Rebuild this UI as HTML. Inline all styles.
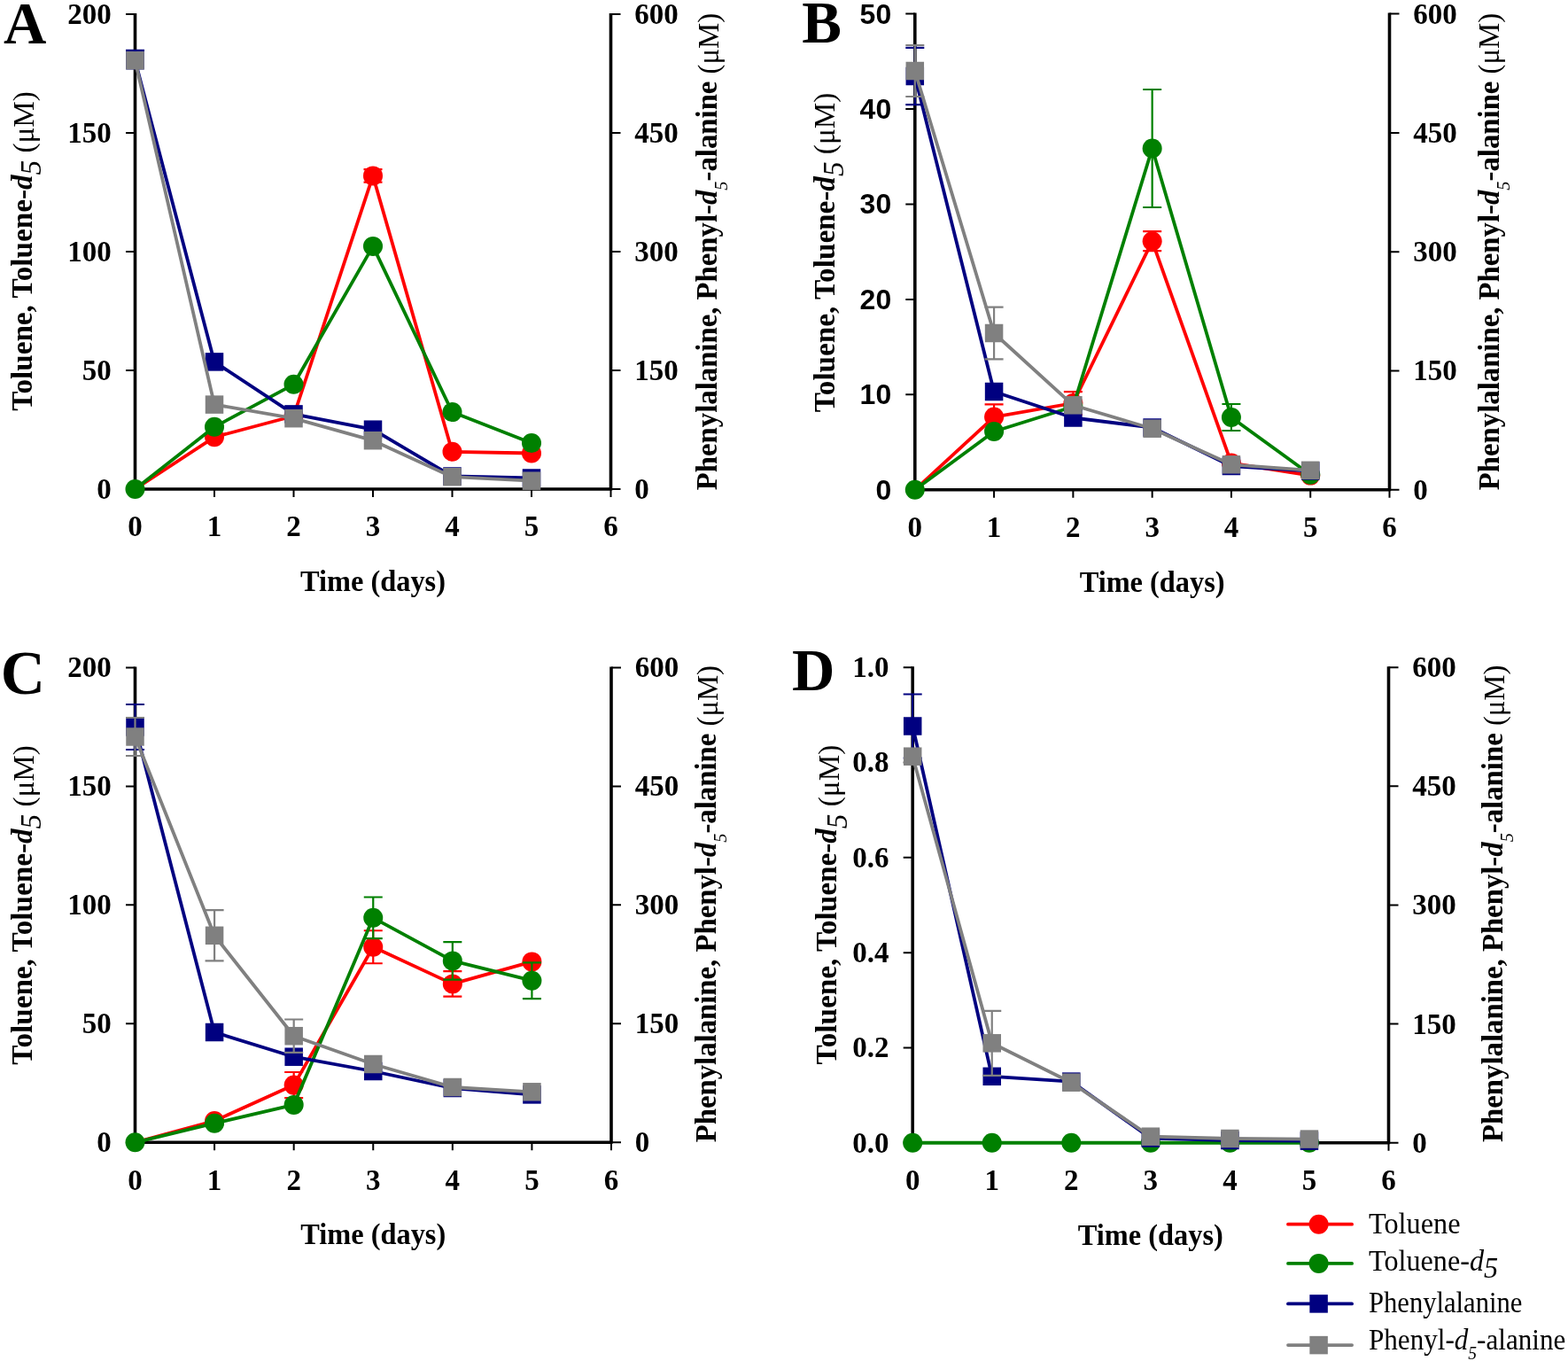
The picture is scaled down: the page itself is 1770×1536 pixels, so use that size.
<!DOCTYPE html>
<html><head><meta charset="utf-8"><title>Figure</title>
<style>html,body{margin:0;padding:0;background:#fff;overflow:hidden;}svg{display:block;}</style>
</head><body>
<svg width="1770" height="1536" viewBox="0 0 1770 1536">
<rect width="1770" height="1536" fill="#fff"/>
<path d="M152.5 15V552H689.5M689.5 15V553.5" stroke="#000" stroke-width="3.6" fill="none"/>
<path d="M142 552H152.5M142 418H152.5M142 284H152.5M142 150H152.5M142 16H152.5M689.5 552H700.5M689.5 418H700.5M689.5 284H700.5M689.5 150H700.5M689.5 16H700.5M242 552V561M331.5 552V561M421 552V561M510.5 552V561M600 552V561M689.5 552V561" stroke="#000" stroke-width="2.0" fill="none"/>
<text x="125.7" y="562.9" text-anchor="end" font-family="'Liberation Serif','Times New Roman',serif" font-weight="bold" font-size="33">0</text>
<text x="125.7" y="428.9" text-anchor="end" font-family="'Liberation Serif','Times New Roman',serif" font-weight="bold" font-size="33">50</text>
<text x="125.7" y="294.9" text-anchor="end" font-family="'Liberation Serif','Times New Roman',serif" font-weight="bold" font-size="33">100</text>
<text x="125.7" y="160.9" text-anchor="end" font-family="'Liberation Serif','Times New Roman',serif" font-weight="bold" font-size="33">150</text>
<text x="125.7" y="26.9" text-anchor="end" font-family="'Liberation Serif','Times New Roman',serif" font-weight="bold" font-size="33">200</text>
<text x="716.3" y="562.9" font-family="'Liberation Serif','Times New Roman',serif" font-weight="bold" font-size="33">0</text>
<text x="716.3" y="428.9" font-family="'Liberation Serif','Times New Roman',serif" font-weight="bold" font-size="33">150</text>
<text x="716.3" y="294.9" font-family="'Liberation Serif','Times New Roman',serif" font-weight="bold" font-size="33">300</text>
<text x="716.3" y="160.9" font-family="'Liberation Serif','Times New Roman',serif" font-weight="bold" font-size="33">450</text>
<text x="716.3" y="26.9" font-family="'Liberation Serif','Times New Roman',serif" font-weight="bold" font-size="33">600</text>
<text x="152.5" y="605.2" text-anchor="middle" font-family="'Liberation Serif','Times New Roman',serif" font-weight="bold" font-size="33">0</text>
<text x="242" y="605.2" text-anchor="middle" font-family="'Liberation Serif','Times New Roman',serif" font-weight="bold" font-size="33">1</text>
<text x="331.5" y="605.2" text-anchor="middle" font-family="'Liberation Serif','Times New Roman',serif" font-weight="bold" font-size="33">2</text>
<text x="421" y="605.2" text-anchor="middle" font-family="'Liberation Serif','Times New Roman',serif" font-weight="bold" font-size="33">3</text>
<text x="510.5" y="605.2" text-anchor="middle" font-family="'Liberation Serif','Times New Roman',serif" font-weight="bold" font-size="33">4</text>
<text x="600" y="605.2" text-anchor="middle" font-family="'Liberation Serif','Times New Roman',serif" font-weight="bold" font-size="33">5</text>
<text x="689.5" y="605.2" text-anchor="middle" font-family="'Liberation Serif','Times New Roman',serif" font-weight="bold" font-size="33">6</text>
<text x="421" y="667" text-anchor="middle" font-family="'Liberation Serif','Times New Roman',serif" font-weight="bold" font-size="33" textLength="164" lengthAdjust="spacingAndGlyphs">Time (days)</text>
<text transform="translate(35.5 463.7) rotate(-90)" font-family="'Liberation Serif','Times New Roman',serif" font-weight="bold" font-size="33.5" textLength="360.6" lengthAdjust="spacingAndGlyphs">Toluene, Toluene-<tspan font-style="italic">d</tspan><tspan font-style="italic" font-weight="normal" dy="10.2">5</tspan><tspan font-weight="normal" dy="-7.8"> (&#956;M)</tspan></text>
<text transform="translate(809.1 553.2) rotate(-90)" font-family="'Liberation Serif','Times New Roman',serif" font-weight="bold" font-size="33" textLength="538.3" lengthAdjust="spacingAndGlyphs">Phenylalanine, Phenyl-<tspan font-style="italic">d</tspan><tspan font-style="italic" font-weight="normal" font-size="20.5" dy="11.8">5</tspan><tspan dy="-11.8">-alanine</tspan><tspan font-weight="normal" dy="2.3"> (&#956;M)</tspan></text>
<text x="4" y="48.8" font-family="'Liberation Serif','Times New Roman',serif" font-weight="bold" font-size="67">A</text>
<polyline points="152.5,552 242,493.3 331.5,469.5 421,198.4 510.5,509.8 600,511.5" stroke="#ff0000" stroke-width="3.8" fill="none" stroke-linejoin="round"/>
<circle cx="242" cy="493.3" r="11.0" fill="#ff0000"/>
<circle cx="331.5" cy="469.5" r="11.0" fill="#ff0000"/>
<circle cx="421" cy="198.4" r="11.0" fill="#ff0000"/>
<circle cx="510.5" cy="509.8" r="11.0" fill="#ff0000"/>
<circle cx="600" cy="511.5" r="11.0" fill="#ff0000"/>
<path d="M421 198.4V191.2M410.5 191.2H431.5M421 198.4V205.6M410.5 205.6H431.5" stroke="#ff0000" stroke-width="2.2" fill="none"/>
<polyline points="152.5,552 242,481.8 331.5,433.8 421,277.9 510.5,465.1 600,500.1" stroke="#008000" stroke-width="3.8" fill="none" stroke-linejoin="round"/>
<circle cx="152.5" cy="552" r="11.0" fill="#008000"/>
<circle cx="242" cy="481.8" r="11.0" fill="#008000"/>
<circle cx="331.5" cy="433.8" r="11.0" fill="#008000"/>
<circle cx="421" cy="277.9" r="11.0" fill="#008000"/>
<circle cx="510.5" cy="465.1" r="11.0" fill="#008000"/>
<circle cx="600" cy="500.1" r="11.0" fill="#008000"/>
<polyline points="152.5,68.2 242,408.4 331.5,467.4 421,484.7 510.5,537.5 600,539.5" stroke="#000080" stroke-width="3.8" fill="none" stroke-linejoin="round"/>
<rect x="142.25" y="57.95" width="20.5" height="20.5" fill="#000080"/>
<rect x="231.75" y="398.15" width="20.5" height="20.5" fill="#000080"/>
<rect x="321.25" y="457.15" width="20.5" height="20.5" fill="#000080"/>
<rect x="410.75" y="474.45" width="20.5" height="20.5" fill="#000080"/>
<rect x="500.25" y="527.25" width="20.5" height="20.5" fill="#000080"/>
<rect x="589.75" y="529.25" width="20.5" height="20.5" fill="#000080"/>
<path d="M152.5 68.2V56.8M142 56.8H163" stroke="#000080" stroke-width="2.2" fill="none"/>
<polyline points="152.5,68.2 242,456.6 331.5,472.2 421,497.2 510.5,538.2 600,542.7" stroke="#808080" stroke-width="3.8" fill="none" stroke-linejoin="round"/>
<rect x="142.25" y="57.95" width="20.5" height="20.5" fill="#808080"/>
<rect x="231.75" y="446.35" width="20.5" height="20.5" fill="#808080"/>
<rect x="321.25" y="461.95" width="20.5" height="20.5" fill="#808080"/>
<rect x="410.75" y="486.95" width="20.5" height="20.5" fill="#808080"/>
<rect x="500.25" y="527.95" width="20.5" height="20.5" fill="#808080"/>
<rect x="589.75" y="532.45" width="20.5" height="20.5" fill="#808080"/>
<path d="M1032.8 14.6V552.8H1568.5M1568.5 14.6V554.3" stroke="#000" stroke-width="3.6" fill="none"/>
<path d="M1022.3 552.8H1032.8M1022.3 445.36H1032.8M1022.3 337.92H1032.8M1022.3 230.48H1032.8M1022.3 123.04H1032.8M1022.3 15.6H1032.8M1568.5 552.8H1579.5M1568.5 418.5H1579.5M1568.5 284.2H1579.5M1568.5 149.9H1579.5M1568.5 15.6H1579.5M1122.08 552.8V561.8M1211.37 552.8V561.8M1300.65 552.8V561.8M1389.93 552.8V561.8M1479.22 552.8V561.8M1568.5 552.8V561.8" stroke="#000" stroke-width="2.0" fill="none"/>
<text x="1006.2" y="563.7" text-anchor="end" font-family="'Liberation Sans',Arial,sans-serif" font-weight="bold" font-size="32">0</text>
<text x="1006.2" y="456.26" text-anchor="end" font-family="'Liberation Sans',Arial,sans-serif" font-weight="bold" font-size="32">10</text>
<text x="1006.2" y="348.82" text-anchor="end" font-family="'Liberation Sans',Arial,sans-serif" font-weight="bold" font-size="32">20</text>
<text x="1006.2" y="241.38" text-anchor="end" font-family="'Liberation Sans',Arial,sans-serif" font-weight="bold" font-size="32">30</text>
<text x="1006.2" y="133.94" text-anchor="end" font-family="'Liberation Sans',Arial,sans-serif" font-weight="bold" font-size="32">40</text>
<text x="1006.2" y="26.5" text-anchor="end" font-family="'Liberation Sans',Arial,sans-serif" font-weight="bold" font-size="32">50</text>
<text x="1595.3" y="563.7" font-family="'Liberation Serif','Times New Roman',serif" font-weight="bold" font-size="33">0</text>
<text x="1595.3" y="429.4" font-family="'Liberation Serif','Times New Roman',serif" font-weight="bold" font-size="33">150</text>
<text x="1595.3" y="295.1" font-family="'Liberation Serif','Times New Roman',serif" font-weight="bold" font-size="33">300</text>
<text x="1595.3" y="160.8" font-family="'Liberation Serif','Times New Roman',serif" font-weight="bold" font-size="33">450</text>
<text x="1595.3" y="26.5" font-family="'Liberation Serif','Times New Roman',serif" font-weight="bold" font-size="33">600</text>
<text x="1032.8" y="606" text-anchor="middle" font-family="'Liberation Serif','Times New Roman',serif" font-weight="bold" font-size="33">0</text>
<text x="1122.08" y="606" text-anchor="middle" font-family="'Liberation Serif','Times New Roman',serif" font-weight="bold" font-size="33">1</text>
<text x="1211.37" y="606" text-anchor="middle" font-family="'Liberation Serif','Times New Roman',serif" font-weight="bold" font-size="33">2</text>
<text x="1300.65" y="606" text-anchor="middle" font-family="'Liberation Serif','Times New Roman',serif" font-weight="bold" font-size="33">3</text>
<text x="1389.93" y="606" text-anchor="middle" font-family="'Liberation Serif','Times New Roman',serif" font-weight="bold" font-size="33">4</text>
<text x="1479.22" y="606" text-anchor="middle" font-family="'Liberation Serif','Times New Roman',serif" font-weight="bold" font-size="33">5</text>
<text x="1568.5" y="606" text-anchor="middle" font-family="'Liberation Serif','Times New Roman',serif" font-weight="bold" font-size="33">6</text>
<text x="1300.65" y="667.8" text-anchor="middle" font-family="'Liberation Serif','Times New Roman',serif" font-weight="bold" font-size="33" textLength="164" lengthAdjust="spacingAndGlyphs">Time (days)</text>
<text transform="translate(941.7 465.3) rotate(-90)" font-family="'Liberation Serif','Times New Roman',serif" font-weight="bold" font-size="33.5" textLength="360.6" lengthAdjust="spacingAndGlyphs">Toluene, Toluene-<tspan font-style="italic">d</tspan><tspan font-style="italic" font-weight="normal" dy="10.3">5</tspan><tspan font-weight="normal" dy="-10.3"> (&#956;M)</tspan></text>
<text transform="translate(1692.2 553.2) rotate(-90)" font-family="'Liberation Serif','Times New Roman',serif" font-weight="bold" font-size="33" textLength="538.3" lengthAdjust="spacingAndGlyphs">Phenylalanine, Phenyl-<tspan font-style="italic">d</tspan><tspan font-style="italic" font-weight="normal" font-size="20.5" dy="11.8">5</tspan><tspan dy="-11.8">-alanine</tspan><tspan font-weight="normal" dy="0"> (&#956;M)</tspan></text>
<text x="905.3" y="47.5" font-family="'Liberation Serif','Times New Roman',serif" font-weight="bold" font-size="67">B</text>
<polyline points="1032.8,552.8 1122.08,470.6 1211.37,455 1300.65,272.2 1389.93,522.6 1479.22,536.6" stroke="#ff0000" stroke-width="3.8" fill="none" stroke-linejoin="round"/>
<circle cx="1122.08" cy="470.6" r="11.0" fill="#ff0000"/>
<circle cx="1211.37" cy="455" r="11.0" fill="#ff0000"/>
<circle cx="1300.65" cy="272.2" r="11.0" fill="#ff0000"/>
<circle cx="1389.93" cy="522.6" r="11.0" fill="#ff0000"/>
<circle cx="1479.22" cy="536.6" r="11.0" fill="#ff0000"/>
<path d="M1122.08 470.6V456.3M1111.58 456.3H1132.58M1122.08 470.6V484.9M1111.58 484.9H1132.58M1211.37 455V442.2M1200.87 442.2H1221.87M1211.37 455V467.8M1200.87 467.8H1221.87M1300.65 272.2V261.2M1290.15 261.2H1311.15M1300.65 272.2V283.2M1290.15 283.2H1311.15" stroke="#ff0000" stroke-width="2.2" fill="none"/>
<polyline points="1032.8,552.8 1122.08,487 1211.37,459 1300.65,167.5 1389.93,471 1479.22,535.7" stroke="#008000" stroke-width="3.8" fill="none" stroke-linejoin="round"/>
<circle cx="1032.8" cy="552.8" r="11.0" fill="#008000"/>
<circle cx="1122.08" cy="487" r="11.0" fill="#008000"/>
<circle cx="1211.37" cy="459" r="11.0" fill="#008000"/>
<circle cx="1300.65" cy="167.5" r="11.0" fill="#008000"/>
<circle cx="1389.93" cy="471" r="11.0" fill="#008000"/>
<circle cx="1479.22" cy="535.7" r="11.0" fill="#008000"/>
<path d="M1300.65 167.5V101M1290.15 101H1311.15M1300.65 167.5V234M1290.15 234H1311.15M1389.93 471V456M1379.43 456H1400.43M1389.93 471V486M1379.43 486H1400.43" stroke="#008000" stroke-width="2.2" fill="none"/>
<polyline points="1032.8,86 1122.08,442 1211.37,471.5 1300.65,482.5 1389.93,526 1479.22,531.5" stroke="#000080" stroke-width="3.8" fill="none" stroke-linejoin="round"/>
<rect x="1022.55" y="75.75" width="20.5" height="20.5" fill="#000080"/>
<rect x="1111.83" y="431.75" width="20.5" height="20.5" fill="#000080"/>
<rect x="1201.12" y="461.25" width="20.5" height="20.5" fill="#000080"/>
<rect x="1290.4" y="472.25" width="20.5" height="20.5" fill="#000080"/>
<rect x="1379.68" y="515.75" width="20.5" height="20.5" fill="#000080"/>
<rect x="1468.97" y="521.25" width="20.5" height="20.5" fill="#000080"/>
<path d="M1032.8 86V53.8M1022.3 53.8H1043.3M1032.8 86V118.2M1022.3 118.2H1043.3" stroke="#000080" stroke-width="2.2" fill="none"/>
<polyline points="1032.8,80 1122.08,376 1211.37,457.3 1300.65,483.7 1389.93,524.3 1479.22,530.8" stroke="#808080" stroke-width="3.8" fill="none" stroke-linejoin="round"/>
<rect x="1022.55" y="69.75" width="20.5" height="20.5" fill="#808080"/>
<rect x="1111.83" y="365.75" width="20.5" height="20.5" fill="#808080"/>
<rect x="1201.12" y="447.05" width="20.5" height="20.5" fill="#808080"/>
<rect x="1290.4" y="473.45" width="20.5" height="20.5" fill="#808080"/>
<rect x="1379.68" y="514.05" width="20.5" height="20.5" fill="#808080"/>
<rect x="1468.97" y="520.55" width="20.5" height="20.5" fill="#808080"/>
<path d="M1032.8 80V51M1022.3 51H1043.3M1032.8 80V109M1022.3 109H1043.3M1122.08 376V346.7M1111.58 346.7H1132.58M1122.08 376V405.3M1111.58 405.3H1132.58" stroke="#808080" stroke-width="2.2" fill="none"/>
<path d="M152.5 752.4V1289.3H690M690 752.4V1290.8" stroke="#000" stroke-width="3.6" fill="none"/>
<path d="M142 1289.3H152.5M142 1155.33H152.5M142 1021.35H152.5M142 887.38H152.5M142 753.4H152.5M690 1289.3H701M690 1155.33H701M690 1021.35H701M690 887.38H701M690 753.4H701M242.08 1289.3V1298.3M331.67 1289.3V1298.3M421.25 1289.3V1298.3M510.83 1289.3V1298.3M600.42 1289.3V1298.3M690 1289.3V1298.3" stroke="#000" stroke-width="2.0" fill="none"/>
<text x="125.7" y="1300.2" text-anchor="end" font-family="'Liberation Serif','Times New Roman',serif" font-weight="bold" font-size="33">0</text>
<text x="125.7" y="1166.23" text-anchor="end" font-family="'Liberation Serif','Times New Roman',serif" font-weight="bold" font-size="33">50</text>
<text x="125.7" y="1032.25" text-anchor="end" font-family="'Liberation Serif','Times New Roman',serif" font-weight="bold" font-size="33">100</text>
<text x="125.7" y="898.27" text-anchor="end" font-family="'Liberation Serif','Times New Roman',serif" font-weight="bold" font-size="33">150</text>
<text x="125.7" y="764.3" text-anchor="end" font-family="'Liberation Serif','Times New Roman',serif" font-weight="bold" font-size="33">200</text>
<text x="716.8" y="1300.2" font-family="'Liberation Serif','Times New Roman',serif" font-weight="bold" font-size="33">0</text>
<text x="716.8" y="1166.23" font-family="'Liberation Serif','Times New Roman',serif" font-weight="bold" font-size="33">150</text>
<text x="716.8" y="1032.25" font-family="'Liberation Serif','Times New Roman',serif" font-weight="bold" font-size="33">300</text>
<text x="716.8" y="898.27" font-family="'Liberation Serif','Times New Roman',serif" font-weight="bold" font-size="33">450</text>
<text x="716.8" y="764.3" font-family="'Liberation Serif','Times New Roman',serif" font-weight="bold" font-size="33">600</text>
<text x="152.5" y="1342.5" text-anchor="middle" font-family="'Liberation Serif','Times New Roman',serif" font-weight="bold" font-size="33">0</text>
<text x="242.08" y="1342.5" text-anchor="middle" font-family="'Liberation Serif','Times New Roman',serif" font-weight="bold" font-size="33">1</text>
<text x="331.67" y="1342.5" text-anchor="middle" font-family="'Liberation Serif','Times New Roman',serif" font-weight="bold" font-size="33">2</text>
<text x="421.25" y="1342.5" text-anchor="middle" font-family="'Liberation Serif','Times New Roman',serif" font-weight="bold" font-size="33">3</text>
<text x="510.83" y="1342.5" text-anchor="middle" font-family="'Liberation Serif','Times New Roman',serif" font-weight="bold" font-size="33">4</text>
<text x="600.42" y="1342.5" text-anchor="middle" font-family="'Liberation Serif','Times New Roman',serif" font-weight="bold" font-size="33">5</text>
<text x="690" y="1342.5" text-anchor="middle" font-family="'Liberation Serif','Times New Roman',serif" font-weight="bold" font-size="33">6</text>
<text x="421.25" y="1404.3" text-anchor="middle" font-family="'Liberation Serif','Times New Roman',serif" font-weight="bold" font-size="33" textLength="164" lengthAdjust="spacingAndGlyphs">Time (days)</text>
<text transform="translate(35.5 1201.7) rotate(-90)" font-family="'Liberation Serif','Times New Roman',serif" font-weight="bold" font-size="33.5" textLength="360.6" lengthAdjust="spacingAndGlyphs">Toluene, Toluene-<tspan font-style="italic">d</tspan><tspan font-style="italic" font-weight="normal" dy="10.2">5</tspan><tspan font-weight="normal" dy="-7.8"> (&#956;M)</tspan></text>
<text transform="translate(807.9 1289.3) rotate(-90)" font-family="'Liberation Serif','Times New Roman',serif" font-weight="bold" font-size="33" textLength="538.3" lengthAdjust="spacingAndGlyphs">Phenylalanine, Phenyl-<tspan font-style="italic">d</tspan><tspan font-style="italic" font-weight="normal" font-size="20.5" dy="11.8">5</tspan><tspan dy="-11.8">-alanine</tspan><tspan font-weight="normal" dy="2.3"> (&#956;M)</tspan></text>
<text x="0.7" y="783.4" font-family="'Liberation Serif','Times New Roman',serif" font-weight="bold" font-size="69.5">C</text>
<polyline points="152.5,1289.3 242.08,1265 331.67,1224.6 421.25,1068.75 510.83,1110.4 600.42,1085.4" stroke="#ff0000" stroke-width="3.8" fill="none" stroke-linejoin="round"/>
<circle cx="242.08" cy="1265" r="11.0" fill="#ff0000"/>
<circle cx="331.67" cy="1224.6" r="11.0" fill="#ff0000"/>
<circle cx="421.25" cy="1068.75" r="11.0" fill="#ff0000"/>
<circle cx="510.83" cy="1110.4" r="11.0" fill="#ff0000"/>
<circle cx="600.42" cy="1085.4" r="11.0" fill="#ff0000"/>
<path d="M331.67 1224.6V1210M321.17 1210H342.17M331.67 1224.6V1239.2M321.17 1239.2H342.17M421.25 1068.75V1050.25M410.75 1050.25H431.75M421.25 1068.75V1087.25M410.75 1087.25H431.75M510.83 1110.4V1096.1M500.33 1096.1H521.33M510.83 1110.4V1124.7M500.33 1124.7H521.33" stroke="#ff0000" stroke-width="2.2" fill="none"/>
<polyline points="152.5,1289.3 242.08,1267.7 331.67,1246.9 421.25,1035.8 510.83,1084.4 600.42,1106.7" stroke="#008000" stroke-width="3.8" fill="none" stroke-linejoin="round"/>
<circle cx="152.5" cy="1289.3" r="11.0" fill="#008000"/>
<circle cx="242.08" cy="1267.7" r="11.0" fill="#008000"/>
<circle cx="331.67" cy="1246.9" r="11.0" fill="#008000"/>
<circle cx="421.25" cy="1035.8" r="11.0" fill="#008000"/>
<circle cx="510.83" cy="1084.4" r="11.0" fill="#008000"/>
<circle cx="600.42" cy="1106.7" r="11.0" fill="#008000"/>
<path d="M421.25 1035.8V1012.5M410.75 1012.5H431.75M421.25 1035.8V1059.1M410.75 1059.1H431.75M510.83 1084.4V1063.2M500.33 1063.2H521.33M510.83 1084.4V1105.6M500.33 1105.6H521.33M600.42 1106.7V1086.3M589.92 1086.3H610.92M600.42 1106.7V1127.1M589.92 1127.1H610.92" stroke="#008000" stroke-width="2.2" fill="none"/>
<polyline points="152.5,820.5 242.08,1165 331.67,1192.7 421.25,1209 510.83,1228 600.42,1235.4" stroke="#000080" stroke-width="3.8" fill="none" stroke-linejoin="round"/>
<rect x="142.25" y="810.25" width="20.5" height="20.5" fill="#000080"/>
<rect x="231.83" y="1154.75" width="20.5" height="20.5" fill="#000080"/>
<rect x="321.42" y="1182.45" width="20.5" height="20.5" fill="#000080"/>
<rect x="411" y="1198.75" width="20.5" height="20.5" fill="#000080"/>
<rect x="500.58" y="1217.75" width="20.5" height="20.5" fill="#000080"/>
<rect x="590.17" y="1225.15" width="20.5" height="20.5" fill="#000080"/>
<path d="M152.5 820.5V795M142 795H163M152.5 820.5V846M142 846H163" stroke="#000080" stroke-width="2.2" fill="none"/>
<polyline points="152.5,831.5 242.08,1055.8 331.67,1169.2 421.25,1201 510.83,1227 600.42,1232.3" stroke="#808080" stroke-width="3.8" fill="none" stroke-linejoin="round"/>
<rect x="142.25" y="821.25" width="20.5" height="20.5" fill="#808080"/>
<rect x="231.83" y="1045.55" width="20.5" height="20.5" fill="#808080"/>
<rect x="321.42" y="1158.95" width="20.5" height="20.5" fill="#808080"/>
<rect x="411" y="1190.75" width="20.5" height="20.5" fill="#808080"/>
<rect x="500.58" y="1216.75" width="20.5" height="20.5" fill="#808080"/>
<rect x="590.17" y="1222.05" width="20.5" height="20.5" fill="#808080"/>
<path d="M152.5 831.5V810M142 810H163M152.5 831.5V853M142 853H163M242.08 1055.8V1027.2M231.58 1027.2H252.58M242.08 1055.8V1084.4M231.58 1084.4H252.58M331.67 1169.2V1150.5M321.17 1150.5H342.17M331.67 1169.2V1187.9M321.17 1187.9H342.17" stroke="#808080" stroke-width="2.2" fill="none"/>
<path d="M1030.2 752.2V1287.75M1477.95 1289.75H1567.5M1567.5 752.2V1291.25" stroke="#000" stroke-width="3.6" fill="none"/>
<path d="M1019.7 1289.75H1030.2M1019.7 1182.44H1030.2M1019.7 1075.13H1030.2M1019.7 967.82H1030.2M1019.7 860.51H1030.2M1019.7 753.2H1030.2M1567.5 1289.75H1578.5M1567.5 1155.61H1578.5M1567.5 1021.48H1578.5M1567.5 887.34H1578.5M1567.5 753.2H1578.5M1119.75 1289.75V1298.75M1209.3 1289.75V1298.75M1298.85 1289.75V1298.75M1388.4 1289.75V1298.75M1477.95 1289.75V1298.75M1567.5 1289.75V1298.75" stroke="#000" stroke-width="2.0" fill="none"/>
<text x="1003.4" y="1300.65" text-anchor="end" font-family="'Liberation Serif','Times New Roman',serif" font-weight="bold" font-size="33">0.0</text>
<text x="1003.4" y="1193.34" text-anchor="end" font-family="'Liberation Serif','Times New Roman',serif" font-weight="bold" font-size="33">0.2</text>
<text x="1003.4" y="1086.03" text-anchor="end" font-family="'Liberation Serif','Times New Roman',serif" font-weight="bold" font-size="33">0.4</text>
<text x="1003.4" y="978.72" text-anchor="end" font-family="'Liberation Serif','Times New Roman',serif" font-weight="bold" font-size="33">0.6</text>
<text x="1003.4" y="871.41" text-anchor="end" font-family="'Liberation Serif','Times New Roman',serif" font-weight="bold" font-size="33">0.8</text>
<text x="1003.4" y="764.1" text-anchor="end" font-family="'Liberation Serif','Times New Roman',serif" font-weight="bold" font-size="33">1.0</text>
<text x="1594.3" y="1300.65" font-family="'Liberation Serif','Times New Roman',serif" font-weight="bold" font-size="33">0</text>
<text x="1594.3" y="1166.51" font-family="'Liberation Serif','Times New Roman',serif" font-weight="bold" font-size="33">150</text>
<text x="1594.3" y="1032.38" font-family="'Liberation Serif','Times New Roman',serif" font-weight="bold" font-size="33">300</text>
<text x="1594.3" y="898.24" font-family="'Liberation Serif','Times New Roman',serif" font-weight="bold" font-size="33">450</text>
<text x="1594.3" y="764.1" font-family="'Liberation Serif','Times New Roman',serif" font-weight="bold" font-size="33">600</text>
<text x="1030.2" y="1342.95" text-anchor="middle" font-family="'Liberation Serif','Times New Roman',serif" font-weight="bold" font-size="33">0</text>
<text x="1119.75" y="1342.95" text-anchor="middle" font-family="'Liberation Serif','Times New Roman',serif" font-weight="bold" font-size="33">1</text>
<text x="1209.3" y="1342.95" text-anchor="middle" font-family="'Liberation Serif','Times New Roman',serif" font-weight="bold" font-size="33">2</text>
<text x="1298.85" y="1342.95" text-anchor="middle" font-family="'Liberation Serif','Times New Roman',serif" font-weight="bold" font-size="33">3</text>
<text x="1388.4" y="1342.95" text-anchor="middle" font-family="'Liberation Serif','Times New Roman',serif" font-weight="bold" font-size="33">4</text>
<text x="1477.95" y="1342.95" text-anchor="middle" font-family="'Liberation Serif','Times New Roman',serif" font-weight="bold" font-size="33">5</text>
<text x="1567.5" y="1342.95" text-anchor="middle" font-family="'Liberation Serif','Times New Roman',serif" font-weight="bold" font-size="33">6</text>
<text x="1298.85" y="1404.75" text-anchor="middle" font-family="'Liberation Serif','Times New Roman',serif" font-weight="bold" font-size="33" textLength="164" lengthAdjust="spacingAndGlyphs">Time (days)</text>
<text transform="translate(944.3 1201.4) rotate(-90)" font-family="'Liberation Serif','Times New Roman',serif" font-weight="bold" font-size="33.5" textLength="360.6" lengthAdjust="spacingAndGlyphs">Toluene, Toluene-<tspan font-style="italic">d</tspan><tspan font-style="italic" font-weight="normal" dy="11.4">5</tspan><tspan font-weight="normal" dy="-8.8"> (&#956;M)</tspan></text>
<text transform="translate(1695.7 1288.9) rotate(-90)" font-family="'Liberation Serif','Times New Roman',serif" font-weight="bold" font-size="33" textLength="538.3" lengthAdjust="spacingAndGlyphs">Phenylalanine, Phenyl-<tspan font-style="italic">d</tspan><tspan font-style="italic" font-weight="normal" font-size="20.5" dy="11.8">5</tspan><tspan dy="-11.8">-alanine</tspan><tspan font-weight="normal" dy="2.3"> (&#956;M)</tspan></text>
<text x="894" y="778.8" font-family="'Liberation Serif','Times New Roman',serif" font-weight="bold" font-size="67">D</text>
<polyline points="1030.2,1289.75 1119.75,1289.75 1209.3,1289.75 1298.85,1289.75 1388.4,1289.75 1477.95,1289.75" stroke="#008000" stroke-width="3.8" fill="none" stroke-linejoin="round"/>
<circle cx="1030.2" cy="1289.75" r="11.0" fill="#008000"/>
<circle cx="1119.75" cy="1289.75" r="11.0" fill="#008000"/>
<circle cx="1209.3" cy="1289.75" r="11.0" fill="#008000"/>
<circle cx="1298.85" cy="1289.75" r="11.0" fill="#008000"/>
<circle cx="1388.4" cy="1289.75" r="11.0" fill="#008000"/>
<circle cx="1477.95" cy="1289.75" r="11.0" fill="#008000"/>
<polyline points="1030.2,819.5 1119.75,1214.8 1209.3,1220.6 1298.85,1284.5 1388.4,1287 1477.95,1287.6" stroke="#000080" stroke-width="3.8" fill="none" stroke-linejoin="round"/>
<rect x="1019.95" y="809.25" width="20.5" height="20.5" fill="#000080"/>
<rect x="1109.5" y="1204.55" width="20.5" height="20.5" fill="#000080"/>
<rect x="1199.05" y="1210.35" width="20.5" height="20.5" fill="#000080"/>
<rect x="1288.6" y="1274.25" width="20.5" height="20.5" fill="#000080"/>
<rect x="1378.15" y="1276.75" width="20.5" height="20.5" fill="#000080"/>
<rect x="1467.7" y="1277.35" width="20.5" height="20.5" fill="#000080"/>
<path d="M1030.2 819.5V783.5M1019.7 783.5H1040.7M1030.2 819.5V855.5M1019.7 855.5H1040.7" stroke="#000080" stroke-width="2.2" fill="none"/>
<polyline points="1030.2,853.7 1119.75,1177.3 1209.3,1221.7 1298.85,1282.7 1388.4,1285 1477.95,1285.6" stroke="#808080" stroke-width="3.8" fill="none" stroke-linejoin="round"/>
<rect x="1019.95" y="843.45" width="20.5" height="20.5" fill="#808080"/>
<rect x="1109.5" y="1167.05" width="20.5" height="20.5" fill="#808080"/>
<rect x="1199.05" y="1211.45" width="20.5" height="20.5" fill="#808080"/>
<rect x="1288.6" y="1272.45" width="20.5" height="20.5" fill="#808080"/>
<rect x="1378.15" y="1274.75" width="20.5" height="20.5" fill="#808080"/>
<rect x="1467.7" y="1275.35" width="20.5" height="20.5" fill="#808080"/>
<path d="M1119.75 1177.3V1140.8M1109.25 1140.8H1130.25M1119.75 1177.3V1213.8M1109.25 1213.8H1130.25" stroke="#808080" stroke-width="2.2" fill="none"/>
<path d="M1454 1381.7H1526.1" stroke="#ff0000" stroke-width="3.8" stroke-linecap="round"/>
<circle cx="1488.6" cy="1381.7" r="11.0" fill="#ff0000"/>
<text x="1545" y="1391.8" font-family="'Liberation Serif','Times New Roman',serif" font-size="33.5" textLength="103.5" lengthAdjust="spacingAndGlyphs">Toluene</text>
<path d="M1454 1425.9H1526.1" stroke="#008000" stroke-width="3.8" stroke-linecap="round"/>
<circle cx="1488.6" cy="1425.9" r="11.0" fill="#008000"/>
<text x="1545" y="1433.5" font-family="'Liberation Serif','Times New Roman',serif" font-size="33.5" textLength="146.2" lengthAdjust="spacingAndGlyphs">Toluene-<tspan font-style="italic">d</tspan><tspan font-style="italic" dy="8">5</tspan></text>
<path d="M1454 1471.4H1526.1" stroke="#000080" stroke-width="3.8" stroke-linecap="round"/>
<rect x="1478.35" y="1461.15" width="20.5" height="20.5" fill="#000080"/>
<text x="1545" y="1481.2" font-family="'Liberation Serif','Times New Roman',serif" font-size="33.5" textLength="173.4" lengthAdjust="spacingAndGlyphs">Phenylalanine</text>
<path d="M1454 1518.1H1526.1" stroke="#808080" stroke-width="3.8" stroke-linecap="round"/>
<rect x="1478.35" y="1507.85" width="20.5" height="20.5" fill="#808080"/>
<text x="1545" y="1522.7" font-family="'Liberation Serif','Times New Roman',serif" font-size="33.5" textLength="222.3" lengthAdjust="spacingAndGlyphs">Phenyl-<tspan font-style="italic">d</tspan><tspan font-style="italic" font-size="21" dy="10.8">5</tspan><tspan dy="-10.8">-alanine</tspan></text>
</svg>
</body></html>
